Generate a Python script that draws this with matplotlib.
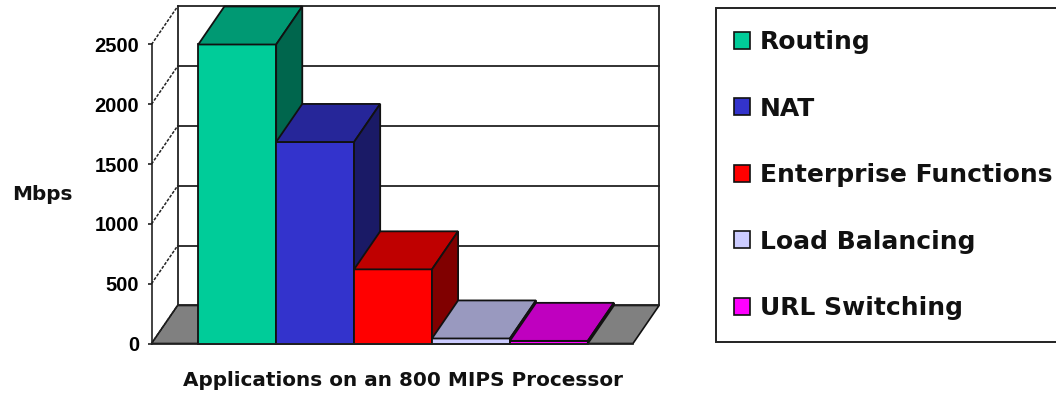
import matplotlib
matplotlib.use("Agg")
from matplotlib import pyplot as plt
from matplotlib.patches import Patch, Rectangle
from matplotlib.colors import to_rgb

# Values.
apps = ["Routing", "NAT", "Enterprise Functions", "Load Balancing", "URL Switching"]
mbps = [2500, 1685, 620, 42, 22]
colors = ["#00CC99", "#3333CC", "#FF0000", "#CCCCFF", "#FF00FF"]
yticks = [0, 500, 1000, 1500, 2000, 2500]

# Size of the fake 3D depth, in data units.
depth_x = 0.335
depth_y = 318
x_left, x_right = -1.1, 5.08
edge = "#111111"


def shade(color, factor):
    return tuple(c * factor for c in to_rgb(color))


plt.rcParams["font.family"] = ["DejaVu Sans"]
plt.rcParams["font.weight"] = "bold"

W, H = 1056, 398
fig = plt.figure(figsize=(W / 100, H / 100), dpi=100)
ax = fig.add_axes([151.5 / W, (H - 343.5) / H, 481.5 / W, 299 / H])
ax.set_xlim(x_left, x_right)
ax.set_ylim(0, 2500)
ax.patch.set_alpha(0)

# Floor, back wall and grid.
ax.fill([x_left, x_left + depth_x, x_right + depth_x, x_right],
        [0, depth_y, depth_y, 0], facecolor="#808080", edgecolor=edge,
        linewidth=1.2, clip_on=False, zorder=1)
for v in yticks:
    ax.plot([x_left + depth_x, x_right + depth_x], [v + depth_y, v + depth_y],
            color="#222222", linewidth=1.3, clip_on=False, zorder=2)
    ax.plot([x_left, x_left + depth_x], [v, v + depth_y], color="#222222",
            linewidth=1.1, linestyle=(0, (2, 1)), clip_on=False, zorder=2)
for x in [x_left + depth_x, x_right + depth_x]:
    ax.plot([x, x], [depth_y, 2500 + depth_y], color="#222222", linewidth=1.3,
            clip_on=False, zorder=2)

# Bars, left to right so each one covers the side of the one before it.
for i, (v, c) in enumerate(zip(mbps, colors)):
    left, right = i - 0.5, i + 0.5
    z = 3 + i
    ax.fill([left, right, right, left], [0, 0, v, v], facecolor=c,
            edgecolor=edge, linewidth=1.3, clip_on=False, zorder=z)
    ax.fill([left, right, right + depth_x, left + depth_x],
            [v, v, v + depth_y, v + depth_y], facecolor=shade(c, 0.75),
            edgecolor=edge, linewidth=1.3, clip_on=False, zorder=z)
    ax.fill([right, right + depth_x, right + depth_x, right],
            [0, depth_y, v + depth_y, v], facecolor=shade(c, 0.5),
            edgecolor=edge, linewidth=1.3, clip_on=False, zorder=z)

for side in ["top", "right"]:
    ax.spines[side].set_visible(False)
for side in ["left", "bottom"]:
    ax.spines[side].set_color("#222222")
    ax.spines[side].set_linewidth(1.2)
    ax.spines[side].set_zorder(20)
ax.set_xticks([])
ax.set_yticks(yticks)
ax.tick_params(axis="y", labelsize=14.5, length=3, width=1.2, pad=6, color="#222222")
for t in ax.get_yticklabels():
    t.set_family("Liberation Sans")

fig.text(403 / W, 1 - 380 / H, "Applications on an 800 MIPS Processor",
         fontsize=14.4, ha="center", va="center", color="#111111")
fig.text(42 / W, 1 - 195 / H, "Mbps", fontsize=14.4, ha="center", va="center",
         color="#111111")

# Legend box is a plain rectangle running off the right edge, entries go inside.
fig.add_artist(Rectangle((715.5 / W, (H - 341.5) / H), 345 / W, 334 / H,
                         transform=fig.transFigure, facecolor="white",
                         edgecolor="#222222", linewidth=1.4))
handles = [Patch(facecolor=c, edgecolor=edge, linewidth=1.2) for c in colors]
leg = fig.legend(handles, apps, loc="center left",
                 bbox_to_anchor=(733.5 / W, (H - 175) / H),
                 frameon=False, borderaxespad=0, fontsize=18, labelspacing=1.7,
                 handlelength=0.66, handleheight=0.66, handletextpad=0.4,
                 borderpad=0)
for t in leg.get_texts():
    t.set_color("#111111")

plt.savefig("out.png", dpi=100)
